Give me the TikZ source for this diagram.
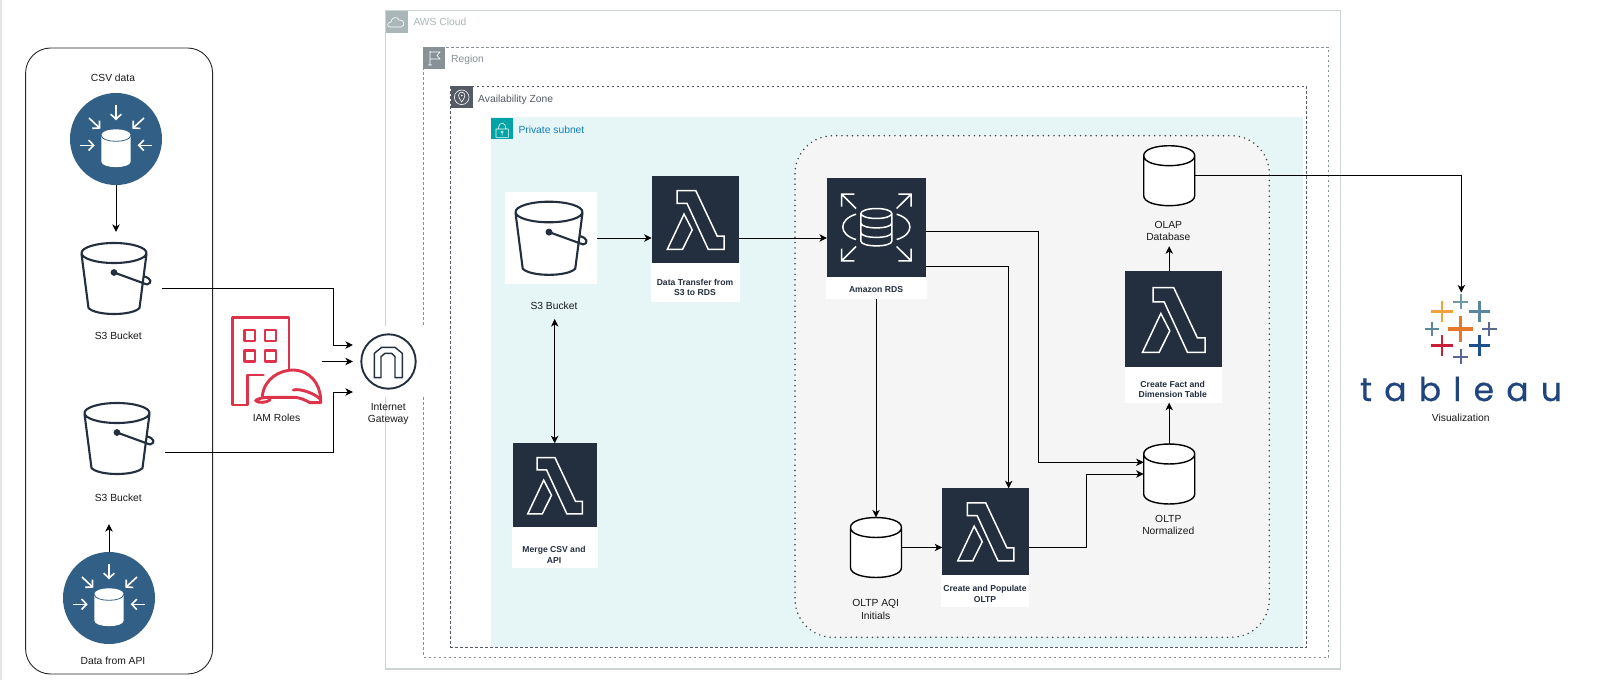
\documentclass[tikz,border=0pt]{standalone}
\usepackage{fontspec}
\usepackage{tikz}
\usetikzlibrary{arrows.meta, positioning}
\setmainfont{Liberation Sans}
\newfontfamily\logofont[LetterSpace=37,FakeBold=0.5]{Poppins}
\definecolor{squidInk}{HTML}{232F3E}
\definecolor{ingestBlue}{HTML}{315F85}
\definecolor{iamRed}{HTML}{DD344C}
\definecolor{subnetFill}{HTML}{E6F6F7}
\definecolor{cloudGray}{HTML}{AAB7B8}
\definecolor{regionGray}{HTML}{879196}
\definecolor{zoneGray}{HTML}{545B64}
\definecolor{subnetTeal}{HTML}{00A4A6}
\definecolor{subnetBlue}{HTML}{147EBA}
\definecolor{tableauBlue}{HTML}{1F447E}
\definecolor{tabTeal}{HTML}{5B879B}
\definecolor{tabLight}{HTML}{7099A6}
\definecolor{tabAmber}{HTML}{F0A33B}
\definecolor{tabOrange}{HTML}{E8762B}
\definecolor{tabRed}{HTML}{C72035}
\definecolor{tabNavy}{HTML}{1F4F8C}
\definecolor{tabPurple}{HTML}{5B6591}
\newcommand{\tabplus}[5]{\draw[line width=#4pt, #5] (#1-#3,#2) -- (#1+#3,#2) (#1,#2-#3) -- (#1,#2+#3);}
\tikzset{
    flow/.style={-{Stealth[length=7.6pt,width=7.4pt,inset=2.2pt]}, line width=0.9pt, black},
    flowboth/.style={{Stealth[length=7.6pt,width=7.4pt,inset=2.2pt]}-{Stealth[length=7.6pt,width=7.4pt,inset=2.2pt]}, line width=0.9pt, black},
    caption/.style={font=\fontsize{10.3}{12.3}\selectfont, align=center, inner sep=0pt, text=black!90},
    boldcaption/.style={font=\fontsize{8.6}{10.5}\selectfont\bfseries, align=center, inner sep=0pt, text=squidInk},
    grouptitle/.style={font=\fontsize{10.3}{12.3}\selectfont, anchor=base west, inner sep=0pt},
    darkbox/.style={fill=squidInk, inner sep=0pt, outer sep=0pt},
    whitebox/.style={fill=white, inner sep=0pt, outer sep=0pt},
    plainbox/.style={inner sep=0pt, outer sep=0pt},
    dbbox/.style={inner sep=0pt, outer sep=0pt, minimum width=51pt, minimum height=60pt},
    dbicon/.pic={
        \draw[black, fill=white, line width=1.4pt]
            (-25.5,-20) -- (-25.5,20) .. controls (-25.5,33.3) and (25.5,33.3) .. (25.5,20) -- (25.5,-20)
            .. controls (25.5,-33.3) and (-25.5,-33.3) .. cycle
            (-25.5,-20) .. controls (-25.5,-6.7) and (25.5,-6.7) .. (25.5,-20);
    },
    lambdaicon/.pic={
        \draw[white, line width=1.5pt, line join=miter]
            (0.29,0.17) -- (0.503,0.17) -- (0.748,0.69) -- (0.828,0.69) -- (0.828,0.84) -- (0.645,0.84)
            -- (0.403,0.316) -- (0.29,0.316) -- cycle
            (0.369,0.438) -- (0.462,0.618) -- (0.352,0.84) -- (0.179,0.84) -- cycle;
    },
    bucketicon/.pic={
        \draw[squidInk, line width=2.1pt, line cap=round, line join=round]
            (0,0) ellipse [x radius=32.5, y radius=10]
            (-32.5,1) -- (-25.5,55) .. controls (-18,63) and (18,63) .. (25.5,55) -- (32.5,1)
            (29.7,23.3) .. controls (37,25) and (39,30) .. (33,31.5) -- (0,19.5);
        \fill[squidInk] (0,19.5) circle (3.4);
    },
    ingesticon/.pic={
        \fill[white] (-14.7,-3.7) -- (-14.7,22.5) .. controls (-14.7,30) and (14.7,30) .. (14.7,22.5)
            -- (14.7,-3.7) .. controls (14.7,-11.7) and (-14.7,-11.7) .. cycle;
        \draw[ingestBlue, line width=0.8pt] (-14.7,-3.7) .. controls (-14.7,4.3) and (14.7,4.3) .. (14.7,-3.7);
        \draw[white, line width=1.6pt, -{Straight Barb[length=5pt,width=10.5pt]}] (0,-33.7) -- (0,-18.7);
        \draw[white, line width=1.6pt, -{Straight Barb[length=5pt,width=10.5pt]}] (-27,-21) -- (-15.7,-10.3);
        \draw[white, line width=1.6pt, -{Straight Barb[length=5pt,width=10.5pt]}] (28,-21) -- (16.3,-10.3);
        \draw[white, line width=1.6pt, -{Straight Barb[length=5pt,width=10.5pt]}] (-35.7,6.3) -- (-21.3,6.3);
        \draw[white, line width=1.6pt, -{Straight Barb[length=5pt,width=10.5pt]}] (36,6.3) -- (21.7,6.3);
    },
    rdsicon/.pic={
        \draw[white, line width=1.5pt]
            (0,-14) ellipse [x radius=15.5, y radius=5]
            (-15.5,-14) -- (-15.5,13.5) .. controls (-15.5,20) and (15.5,20) .. (15.5,13.5) -- (15.5,-14)
            (-15.5,-4.5) .. controls (-15.5,2) and (15.5,2) .. (15.5,-4.5)
            (-15.5,5) .. controls (-15.5,11.5) and (15.5,11.5) .. (15.5,5)
            (-20.3,-13.3) .. controls (-38,-8) and (-38,7) .. (-20.3,12)
            (20.3,-13.3) .. controls (38,-8) and (38,7) .. (20.3,12)
            (-34.7,-21) -- (-34.7,-33.3) -- (-22,-33.3) (-34.7,-33.3) -- (-20.3,-19)
            (34.7,-21) -- (34.7,-33.3) -- (22,-33.3) (34.7,-33.3) -- (20.3,-19)
            (-34.7,21) -- (-34.7,33.3) -- (-22,33.3) (-34.7,33.3) -- (-20.3,19)
            (34.7,21) -- (34.7,33.3) -- (22,33.3) (34.7,33.3) -- (20.3,19);
    }
}

\begin{document}
\begin{tikzpicture}[x=1pt, y=-1pt]
    \useasboundingbox (0,0) rectangle (1600,680);
    \fill[white] (0,0) rectangle (1600,680);
    \fill[black!10] (0,0) rectangle (1.8,680);

    % source group
    \draw[line width=0.9pt, black!85, rounded corners=25pt] (25.6,48) rectangle (212.6,674);

    % nested AWS groups
    \draw[cloudGray!60, line width=1.4pt] (385.7,10.7) rectangle (1340.7,669);
    \draw[regionGray, line width=0.8pt, dash pattern=on 2.5pt off 2.5pt] (423.3,47.3) rectangle (1328.7,657);
    \draw[zoneGray, line width=0.8pt, dash pattern=on 2.5pt off 2.5pt] (450.7,86.3) rectangle (1306.7,647);
    \fill[subnetFill] (491,117.3) rectangle (1303,647);
    \fill[black!4, rounded corners=38pt] (795,135.7) rectangle (1269.3,637.3);
    \draw[black!75, line width=1.7pt, line cap=round, dash pattern=on 0pt off 5.3pt, rounded corners=38pt]
        (795,135.7) rectangle (1269.3,637.3);

    % group tiles
    \fill[cloudGray] (385.7,10.7) rectangle (407.5,32.5);
    \draw[white, line width=0.6pt] (390,27) .. controls (386.5,27) and (387,22) .. (391,22) .. controls (391,17) and (398,16) .. (399,20)
        .. controls (404,19) and (406,26) .. (401,27) -- cycle;
    \fill[regionGray] (423.3,47.3) rectangle (445.2,69.2);
    \draw[white, line width=0.6pt] (430,51) -- (430,65) (428,65) -- (432,65) (430,52) -- (440,52) -- (437,55.5) -- (440,59) -- (430,59);
    \fill[zoneGray] (450.7,86.3) rectangle (472.7,108.3);
    \draw[white, line width=0.6pt] (461.7,97.3) circle (7.3);
    \draw[white, line width=0.6pt] (461.7,102) .. controls (459.5,98.5) and (458.5,97) .. (458.5,95.5) .. controls (458.5,91) and (464.9,91) .. (464.9,95.5) .. controls (464.9,97) and (463.9,98.5) .. cycle;
    \fill[white] (461.7,95.5) circle (0.9);
    \fill[subnetTeal] (491,117.7) rectangle (512.8,139.3);
    \draw[white, line width=0.6pt] (496,129) rectangle (508.3,137.3)
        (498.5,129) .. controls (498.5,121) and (505.8,121) .. (505.8,129);
    \draw[white, line width=0.6pt] (502.1,132) circle (1.1) (502.1,133) -- (502.1,135.5);

    \node[grouptitle, text=cloudGray] (cloudtitle) at (413.3,25.7) {AWS Cloud};
    \node[grouptitle, text=regionGray] (regiontitle) at (451,62.6) {Region};
    \node[grouptitle, text=zoneGray] (zonetitle) at (478,102) {Availability Zone};
    \node[grouptitle, text=subnetBlue] (subnettitle) at (518.3,133) {Private subnet};

    % sources
    \node[circle, fill=ingestBlue, minimum size=92pt, inner sep=0pt, outer sep=0pt] (ingestcsv) at (116,139) {};
    \pic at (ingestcsv.center) {ingesticon};
    \node[circle, fill=ingestBlue, minimum size=92pt, inner sep=0pt, outer sep=0pt] (ingestapi) at (109,598) {};
    \pic at (ingestapi.center) {ingesticon};
    \node[plainbox, minimum width=96pt, minimum height=92pt] (bucketcsv) at (114,278) {};
    \pic at (114,253) {bucketicon};
    \node[plainbox, minimum width=96pt, minimum height=60pt] (bucketapi) at (117,443.5) {};
    \pic at (117,413) {bucketicon};
    \coordinate (bucketapientry) at (109,524);
    \node[caption] (csvlabel) at (113,78) {CSV data};
    \node[caption] (bucketcsvlabel) at (118.3,336) {S3 Bucket};
    \node[caption] (bucketapilabel) at (118.3,498.3) {S3 Bucket};
    \node[caption] (apilabel) at (113,661) {Data from API};

    % IAM roles
    \node[plainbox, minimum size=90pt] (iamroles) at (277,361.5) {};
    \begin{scope}[shift={(225,310)}, x=0.3333pt, y=-0.3333pt, iamRed, line width=2.9pt, line join=round, line cap=round]
        \draw (192,178) -- (192,22) -- (22,22) -- (22,285) -- (68,285) -- (68,195) -- (115,195);
        \draw (58,60) rectangle (90,93) (120,60) rectangle (153,93);
        \draw (58,122) rectangle (90,155) (120,122) rectangle (153,155);
        \draw (112,258) .. controls (118,205) and (165,180) .. (205,180) .. controls (255,182) and (285,220) .. (287,268)
            -- (287,278) -- (255,278) .. controls (240,270) and (225,262) .. (205,262) -- (130,262) .. controls (110,262) and (95,268) .. (92,272)
            .. controls (100,280) and (125,278) .. (135,270);
        \draw (205,240) .. controls (225,235) and (265,248) .. (287,268);
    \end{scope}
    \node[caption] (iamlabel) at (276.5,418.3) {IAM Roles};

    % internet gateway
    \node[whitebox, minimum size=71pt] (gateway) at (388.5,361.5) {};
    \draw[squidInk, line width=1.9pt] (gateway.center) circle (27.2);
    \begin{scope}[shift={(225,310)}, x=0.3333pt, y=-0.3333pt, squidInk, line width=1.4pt, line join=round]
        \draw (448,203) -- (448,130) -- (470,112) -- (510,112) -- (532,130) -- (532,203) -- (510,203) -- (510,140)
            -- (500,130) -- (480,130) -- (468,140) -- (468,203) -- cycle;
    \end{scope}
    \node[caption] (gatewaylabel) at (388.3,414) {Internet\\Gateway};

    % private subnet
    \node[whitebox, minimum size=92.3pt] (bucketmain) at (551.2,238) {};
    \pic[scale=1.03] at (549,212) {bucketicon};
    \node[caption] (bucketmainlabel) at (554,306) {S3 Bucket};

    \node[darkbox, minimum size=87.6pt] (datatransfer) at (695.5,219.5) {};
    \pic[scale=87.6] at (datatransfer.north west) {lambdaicon};
    \fill[white] (650.7,263.3) rectangle (740.3,301.7);
    \node[boldcaption] (datatransferlabel) at (695,287.5) {Data Transfer from\\S3 to RDS};

    \node[darkbox, minimum width=84pt, minimum height=83.7pt] (mergecsv) at (554.7,485.2) {};
    \pic[scale=84] at (mergecsv.north west) {lambdaicon};
    \fill[white] (512,527) rectangle (597.7,568.3);
    \node[boldcaption] (mergecsvlabel) at (554,555) {Merge CSV and\\API};

    \node[darkbox, minimum width=98.7pt, minimum height=98.4pt] (rds) at (876.35,227.5) {};
    \pic at (rds.center) {rdsicon};
    \node[whitebox, minimum width=101pt, minimum height=22.4pt] (rdslabelbox) at (876,287.9) {};
    \node[boldcaption] (rdslabel) at (876,290) {Amazon RDS};

    \node[dbbox] (oltpaqi) at (876,547.5) {};
    \pic at (oltpaqi.center) {dbicon};
    \node[caption] (oltpaqilabel) at (875.7,609.3) {OLTP AQI\\Initials};

    \node[darkbox, minimum width=86.4pt, minimum height=86.4pt] (createoltp) at (985.5,531.5) {};
    \pic[scale=86.4] at (createoltp.north west) {lambdaicon};
    \fill[white] (941,574.7) rectangle (1029.3,607.3);
    \node[boldcaption] (createoltplabel) at (985,594) {Create and Populate\\OLTP};

    \node[dbbox] (oltpnorm) at (1169.2,474) {};
    \pic at (oltpnorm.center) {dbicon};
    \node[caption] (oltpnormlabel) at (1168.3,524.6) {OLTP\\Normalized};

    \node[darkbox, minimum width=96.7pt, minimum height=96pt] (factdim) at (1173.6,319.3) {};
    \pic[scale=96.4] at (factdim.north west) {lambdaicon};
    \node[whitebox, minimum width=97pt, minimum height=35.4pt] (factdimlabelbox) at (1173.5,385) {};
    \node[boldcaption] (factdimlabel) at (1172.7,389.3) {Create Fact and\\Dimension Table};

    \node[dbbox] (olapdb) at (1169.2,175.7) {};
    \pic at (olapdb.center) {dbicon};
    \node[caption] (olaplabel) at (1168.3,231.2) {OLAP\\Database};

    % tableau
    \node[plainbox, minimum width=72pt, minimum height=73pt] (tableaumark) at (1461.3,329) {};
    \tabplus{1460.7}{301.7}{7.3}{1.8}{tabLight}
    \tabplus{1442}{311.7}{10.7}{2.8}{tabAmber}
    \tabplus{1479.3}{311.7}{10.7}{2.8}{tabTeal}
    \tabplus{1460.7}{329}{12.7}{3.4}{tabOrange}
    \tabplus{1432}{329}{7.3}{2}{tabTeal}
    \tabplus{1489.3}{329}{7.3}{2}{tabPurple}
    \tabplus{1442}{345.7}{10.7}{2.8}{tabRed}
    \tabplus{1479.3}{345.7}{10.7}{2.8}{tabNavy}
    \tabplus{1460.7}{356.7}{7.3}{2}{tabPurple}
    \node[inner sep=0pt, anchor=base, text=tableauBlue, font=\logofont\fontsize{33}{36}\selectfont] (tableauword) at (1461,401) {tableau};
    \node[caption] (tableaulabel) at (1460.7,418.3) {Visualization};

    % connectors
    \coordinate (elbowcsv) at (333,288);
    \coordinate (elbowapi) at (333,452);
    \coordinate (elbowfact) at (1038.7,462.3);
    \coordinate (elbowpopulate) at (1086.7,547.5);
    \draw[flow] (ingestcsv.south) -- (ingestcsv.south |- bucketcsv.north);
    \draw[flow] (ingestapi.north) -- (bucketapientry);
    \draw[flow] ([yshift=-10pt]bucketcsv.east) -- (elbowcsv) |- ([yshift=16.5pt]gateway.west);
    \draw[flow] (iamroles.east) -- (gateway.west);
    \draw[flow] ([yshift=-8.5pt]bucketapi.east) -- (elbowapi) |- ([yshift=-30.5pt]gateway.west);
    \draw[flow] (bucketmain.east) -- (datatransfer.west |- bucketmain.east);
    \draw[flow] (datatransfer.east |- bucketmain.east) -- ([yshift=-10.5pt]rds.west);
    \draw[flowboth, shorten <=9pt] (mergecsv.north |- bucketmainlabel.south) -- (mergecsv.north);
    \draw[flow] ([yshift=-4.2pt]rds.east) -| (elbowfact) -- ([yshift=11.7pt]oltpnorm.west);
    \draw[flow] ([yshift=-39.2pt]rds.east) -| ([xshift=23.2pt]createoltp.north);
    \draw[flow] (rdslabelbox.south) -- (oltpaqi.north);
    \draw[flow] (oltpaqi.east) -- (createoltp.west |- oltpaqi.east);
    \draw[flow] (createoltp.east |- elbowpopulate) -- (elbowpopulate) |- (oltpnorm.west);
    \draw[flow] (oltpnorm.north) -- (oltpnorm.north |- factdimlabelbox.south);
    \draw[flow, shorten >=5pt] (olapdb.south |- factdim.north) -- (olapdb.south |- olaplabel.south);
    \draw[flow] (olapdb.east) -| (tableaumark.north);
\end{tikzpicture}
\end{document}
